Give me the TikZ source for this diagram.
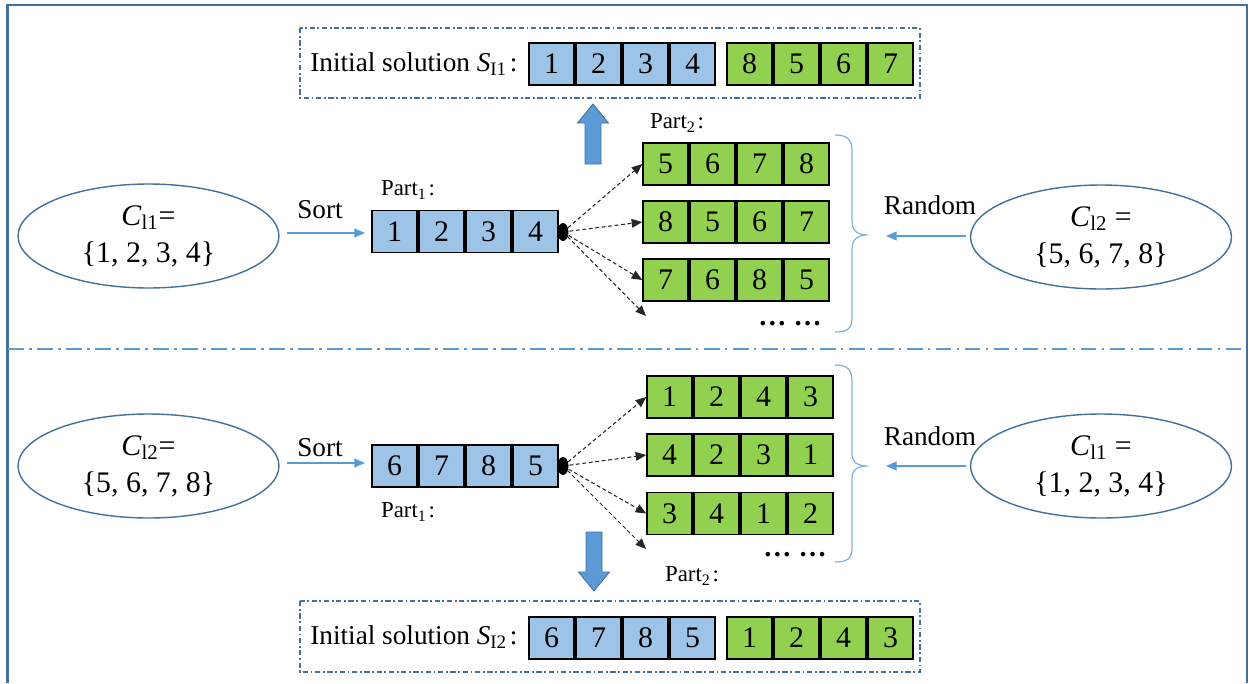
\documentclass[tikz,border=0pt]{standalone}
\usepackage{fontspec}
\setmainfont{Liberation Serif}
\usetikzlibrary{arrows.meta,shapes.geometric,calc}
\definecolor{frameblue}{RGB}{65,113,156}
\definecolor{lightblue}{RGB}{91,155,213}
\definecolor{cellblue}{RGB}{157,195,230}
\definecolor{cellgreen}{RGB}{146,208,80}
\definecolor{bracecol}{RGB}{130,175,220}
\tikzset{
  cellB/.style={draw=black, line width=0.9pt, fill=cellblue, minimum width=0.9cm, minimum height=0.84cm, inner sep=0pt, font=\fontsize{17}{19}\selectfont},
  cellG/.style={cellB, fill=cellgreen},
  setell/.style={ellipse, draw=frameblue, line width=0.8pt, fill=white, minimum width=5.22cm, minimum height=2.08cm, inner sep=0pt, align=center, font=\fontsize{17}{21}\selectfont},
  dashbox/.style={draw=frameblue, line width=0.6pt, dash pattern=on 3pt off 1.5pt on 1pt off 1.5pt},
  lbl/.style={inner sep=0pt, font=\fontsize{15.5}{18}\selectfont},
  partlbl/.style={inner sep=0pt, font=\fontsize{13}{15}\selectfont},
  thinarrow/.style={draw=lightblue, line width=0.6pt, -{Triangle[length=6pt,width=5pt]}},
  dasharrow/.style={draw=black!85, line width=0.6pt, dash pattern=on 2.2pt off 1.5pt, -{Triangle[length=6pt,width=5pt]}},
  blockarrow/.style={fill=lightblue, draw=frameblue, line width=0.5pt},
  bracestyle/.style={draw=bracecol, line width=0.7pt},
  dotnode/.style={ellipse, fill=black, minimum width=0.22cm, minimum height=0.36cm, inner sep=0pt},
  dotsnode/.style={inner sep=0pt, font=\fontsize{16}{18}\selectfont\bfseries}
}
\begin{document}
\begin{tikzpicture}[x=0.02cm, y=-0.02cm]
\useasboundingbox (0,0) rectangle (1250,683);
% frame
\draw[frameblue, line width=1.2pt] (7.5,683) -- (7.5,5) -- (1247,5) -- (1247,683);
% separator
\draw[lightblue, line width=0.9pt, dash pattern=on 9pt off 3pt on 1.5pt off 3pt] (8,349) -- (1245,349);

% ===== TOP HALF =====
\draw[dashbox] (300,28) rectangle (920,98);
\node[lbl, anchor=west] (initA) at (310,64) {Initial solution \textit{S}\textsubscript{I1}\kern1.5pt:};
\foreach \v [count=\i from 0] in {1,2,3,4}
  \node[cellB] (sa-\i) at (529+22.5+47*\i, 64) {\v};
\foreach \v [count=\i from 0] in {8,5,6,7}
  \node[cellG] (sb-\i) at (727+22.5+47*\i, 64) {\v};

\draw[blockarrow] (585,164) -- (585,123) -- (577.5,123) -- (593,104) -- (608.5,123) -- (601,123) -- (601,164) -- cycle;

\node[setell] (cl1a) at (148.5,236) {\textit{C}\textsubscript{l1}=\\\{1, 2, 3, 4\}};
\node[setell] (cl2a) at (1101,237) {\textit{C}\textsubscript{l2} =\\\{5, 6, 7, 8\}};

\node[lbl] (sortA) at (320,210) {Sort};
\node[lbl] (randA) at (930,205) {Random};
\coordinate (sortAs) at (287,233);
\coordinate (sortAe) at (365,233);
\draw[thinarrow] (sortAs) -- (sortAe);
\coordinate (randAs) at (966,236);
\coordinate (randAe) at (886,236);
\draw[thinarrow] (randAs) -- (randAe);

\node[partlbl] (p1a) at (408,190) {Part\textsubscript{1}\kern1pt:};
\node[partlbl] (p2a) at (677,123) {Part\textsubscript{2}\kern1pt:};

\foreach \v [count=\i from 0] in {1,2,3,4}
  \node[cellB] (pa-\i) at (372+22.5+47*\i, 231.5) {\v};
\foreach \v [count=\i from 0] in {5,6,7,8}
  \node[cellG] (ra-\i) at (643+22.5+47*\i, 164) {\v};
\foreach \v [count=\i from 0] in {8,5,6,7}
  \node[cellG] (rb-\i) at (643+22.5+47*\i, 222) {\v};
\foreach \v [count=\i from 0] in {7,6,8,5}
  \node[cellG] (rc-\i) at (643+22.5+47*\i, 280) {\v};
\node[dotsnode] (dotsA) at (790,324) {\ldots\ \ldots};

\coordinate (endA4) at (646,316);
\draw[dasharrow] (563,232) -- (ra-0.west);
\draw[dasharrow] (563,232) -- (rb-0.west);
\draw[dasharrow] (563,232) -- (rc-0.west);
\draw[dasharrow] (563,232) -- (endA4);
\node[dotnode] (dotA) at (563,232) {};

\draw[bracestyle] (835,135) .. controls (848,135) and (852,140) .. (852,152) -- (852,220) .. controls (852,230) and (856,234) .. (866,235) .. controls (856,236) and (852,240) .. (852,250) -- (852,318) .. controls (852,328) and (848,332) .. (835,332);

% ===== BOTTOM HALF =====
\draw[dashbox] (300,601) rectangle (920,672);
\node[lbl, anchor=west] (initB) at (310,637) {Initial solution \textit{S}\textsubscript{I2}\kern1.5pt:};
\foreach \v [count=\i from 0] in {6,7,8,5}
  \node[cellB] (sc-\i) at (529+22.5+47*\i, 638) {\v};
\foreach \v [count=\i from 0] in {1,2,4,3}
  \node[cellG] (sd-\i) at (727+22.5+47*\i, 638) {\v};

\draw[blockarrow] (586,532) -- (586,572) -- (578.5,572) -- (594,591) -- (609.5,572) -- (602,572) -- (602,532) -- cycle;

\node[setell] (cl2b) at (148.5,466) {\textit{C}\textsubscript{l2}=\\\{5, 6, 7, 8\}};
\node[setell] (cl1b) at (1101,466) {\textit{C}\textsubscript{l1} =\\\{1, 2, 3, 4\}};

\node[lbl] (sortB) at (320,448) {Sort};
\node[lbl] (randB) at (930,436) {Random};
\coordinate (sortBs) at (287,463);
\coordinate (sortBe) at (365,463);
\draw[thinarrow] (sortBs) -- (sortBe);
\coordinate (randBs) at (966,466);
\coordinate (randBe) at (886,466);
\draw[thinarrow] (randBs) -- (randBe);

\node[partlbl] (p1b) at (408,512) {Part\textsubscript{1}\kern1pt:};
\node[partlbl] (p2b) at (692,576) {Part\textsubscript{2}\kern1pt:};

\foreach \v [count=\i from 0] in {6,7,8,5}
  \node[cellB] (pb-\i) at (372+22.5+47*\i, 466) {\v};
\foreach \v [count=\i from 0] in {1,2,4,3}
  \node[cellG] (rd-\i) at (647+22.5+47*\i, 397) {\v};
\foreach \v [count=\i from 0] in {4,2,3,1}
  \node[cellG] (re-\i) at (647+22.5+47*\i, 455) {\v};
\foreach \v [count=\i from 0] in {3,4,1,2}
  \node[cellG] (rf-\i) at (647+22.5+47*\i, 513.5) {\v};
\node[dotsnode] (dotsB) at (795,555) {\ldots\ \ldots};

\coordinate (endB4) at (646,549);
\draw[dasharrow] (563,466) -- (rd-0.west);
\draw[dasharrow] (563,466) -- (re-0.west);
\draw[dasharrow] (563,466) -- (rf-0.west);
\draw[dasharrow] (563,466) -- (endB4);
\node[dotnode] (dotB) at (563,466) {};

\draw[bracestyle] (835,365) .. controls (848,365) and (852,370) .. (852,382) -- (852,453) .. controls (852,462) and (856,465) .. (866,466) .. controls (856,467) and (852,470) .. (852,479) -- (852,548) .. controls (852,558) and (848,562) .. (835,562);
\end{tikzpicture}
\end{document}
